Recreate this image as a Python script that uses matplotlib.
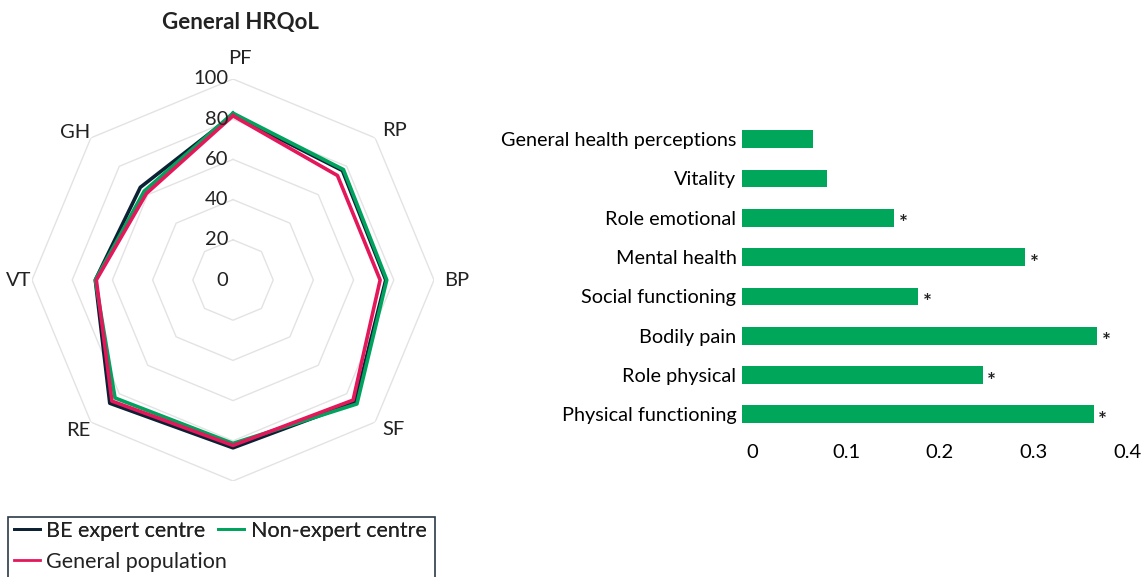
import numpy as np
import matplotlib
matplotlib.use("Agg")
import matplotlib.pyplot as plt
from matplotlib.transforms import ScaledTranslation
from matplotlib.patches import Rectangle

plt.rcParams['font.family'] = ['Lato', 'DejaVu Sans']
plt.rcParams['text.color'] = '#222222'

# radar data (SF-36 domains)
domains = ['PF', 'RP', 'BP', 'SF', '', 'RE', 'VT', 'GH']
be_expert = [82, 77, 76, 86, 83.5, 86.7, 68.5, 65.2]
non_expert = [83, 77.7, 76.5, 87.2, 81.3, 83, 68.5, 62.5]
general_pop = [81.7, 73.5, 73.2, 84.5, 82.3, 85.2, 68, 60.9]
rings = [20, 40, 60, 80, 100]

# bar data (effect sizes)
bar_labels = ['General health perceptions', 'Vitality', 'Role emotional', 'Mental health',
              'Social functioning', 'Bodily pain', 'Role physical', 'Physical functioning']
bar_values = [0.075, 0.090, 0.162, 0.301, 0.187, 0.378, 0.256, 0.374]
significant = [False, False, True, True, True, True, True, True]

W, H = 1145, 577
fig = plt.figure(figsize=(W / 100, H / 100), dpi=100)

navy = '#0d2135'
green = '#00a35d'
pink = '#e3175a'

def px(dx, dy):
    return ScaledTranslation(dx / 100, -dy / 100, fig.dpi_scale_trans)

# ---- radar ----
cx, cy, R = 233, 280, 201
ax = fig.add_axes([(cx - R) / W, (H - cy - R) / H, 2 * R / W, 2 * R / H], projection='polar')
ax.set_theta_offset(np.pi / 2)
ax.set_theta_direction(-1)
ax.set_ylim(0, 100)
ax.grid(False)
ax.spines['polar'].set_visible(False)
ax.set_xticks([])
ax.set_yticks([])

theta = np.linspace(0, 2 * np.pi, len(domains), endpoint=False)
th_closed = np.append(theta, theta[0])
for r in rings:
    ax.plot(th_closed, [r] * len(th_closed), color='#e3e3e3', lw=1, zorder=1)

for vals, col in [(be_expert, navy), (non_expert, green), (general_pop, pink)]:
    ax.plot(th_closed, vals + vals[:1], color=col, lw=2.6, zorder=3)

for t, name in zip(theta, domains):
    s, c = np.sin(t), np.cos(t)
    if abs(s) < 0.01:
        ax.text(t, 106, name, ha='center', va='bottom' if c > 0 else 'top',
                fontsize=14.5, clip_on=False, transform=ax.transData + px(7, 0))
    elif s > 0:
        ax.text(t, 105, name, ha='left', va='center', fontsize=14.5, clip_on=False)
    else:
        dy = 0 if abs(c) < 0.01 else (-5 if c > 0 else 8)
        ax.text(t, 100.5, name, ha='right', va='center', fontsize=14.5, clip_on=False,
                transform=ax.transData + px(0, dy))

for r in [0] + rings:
    ax.text(0, r, str(r), ha='right', va='center', fontsize=14.5,
            transform=ax.transData + px(-5, 0), zorder=4)

fig.text(240 / W, 1 - 22 / H, 'General HRQoL', ha='center', va='center',
         fontsize=16, fontweight='bold')

# legend: items flow left to right, wrapping to a second row
h_be, = ax.plot([], [], color=navy, lw=2, label='BE expert centre')
h_non, = ax.plot([], [], color=green, lw=2, label='Non-expert centre')
h_gen, = ax.plot([], [], color=pink, lw=2, label='General population')
leg_kw = dict(loc='center left', fontsize=15.5, frameon=False, handlelength=1.2,
              handletextpad=0.3, columnspacing=0.6, borderpad=0, borderaxespad=0)
leg1 = fig.legend(handles=[h_be, h_non], ncol=2,
                  bbox_to_anchor=(14 / W, 1 - 531 / H), **leg_kw)
leg2 = fig.legend(handles=[h_gen], ncol=1,
                  bbox_to_anchor=(14 / W, 1 - 562 / H), **leg_kw)
fig.add_artist(leg1)
fig.patches.append(Rectangle((8 / W, -10 / H), 427 / W, (577 - 517 + 10) / H,
                             transform=fig.transFigure, fill=False,
                             edgecolor='#2b3a47', lw=1.2))

# ---- bars ----
top, bottom = 119.5, 434
bx = fig.add_axes([742 / W, (H - bottom) / H, 376 / W, (bottom - top) / H])
y = np.arange(len(bar_labels))
bx.barh(y, bar_values, height=0.45, color='#00a65a')
bx.set_ylim(len(bar_labels) - 0.5, -0.5)
bx.set_xlim(0, 0.4)
for s in bx.spines.values():
    s.set_visible(False)
bx.set_yticks(y)
bx.set_yticklabels(bar_labels, fontsize=14.3)
bx.set_xticks([0, 0.1, 0.2, 0.3, 0.4])
bx.set_xticklabels(['0', '0.1', '0.2', '0.3', '0.4'], fontsize=14.5)
bx.tick_params(length=0, axis='y', pad=4)
bx.tick_params(length=0, axis='x', pad=7)
for lab in bx.get_xticklabels():
    lab.set_transform(lab.get_transform() + px(10, 0))
for yi, v, sig in zip(y, bar_values, significant):
    if sig:
        bx.text(v + 0.005, yi + 0.17, '*', ha='left', va='center', fontsize=15,
                fontweight='bold', clip_on=False)

fig.savefig('out.png', dpi=100)
